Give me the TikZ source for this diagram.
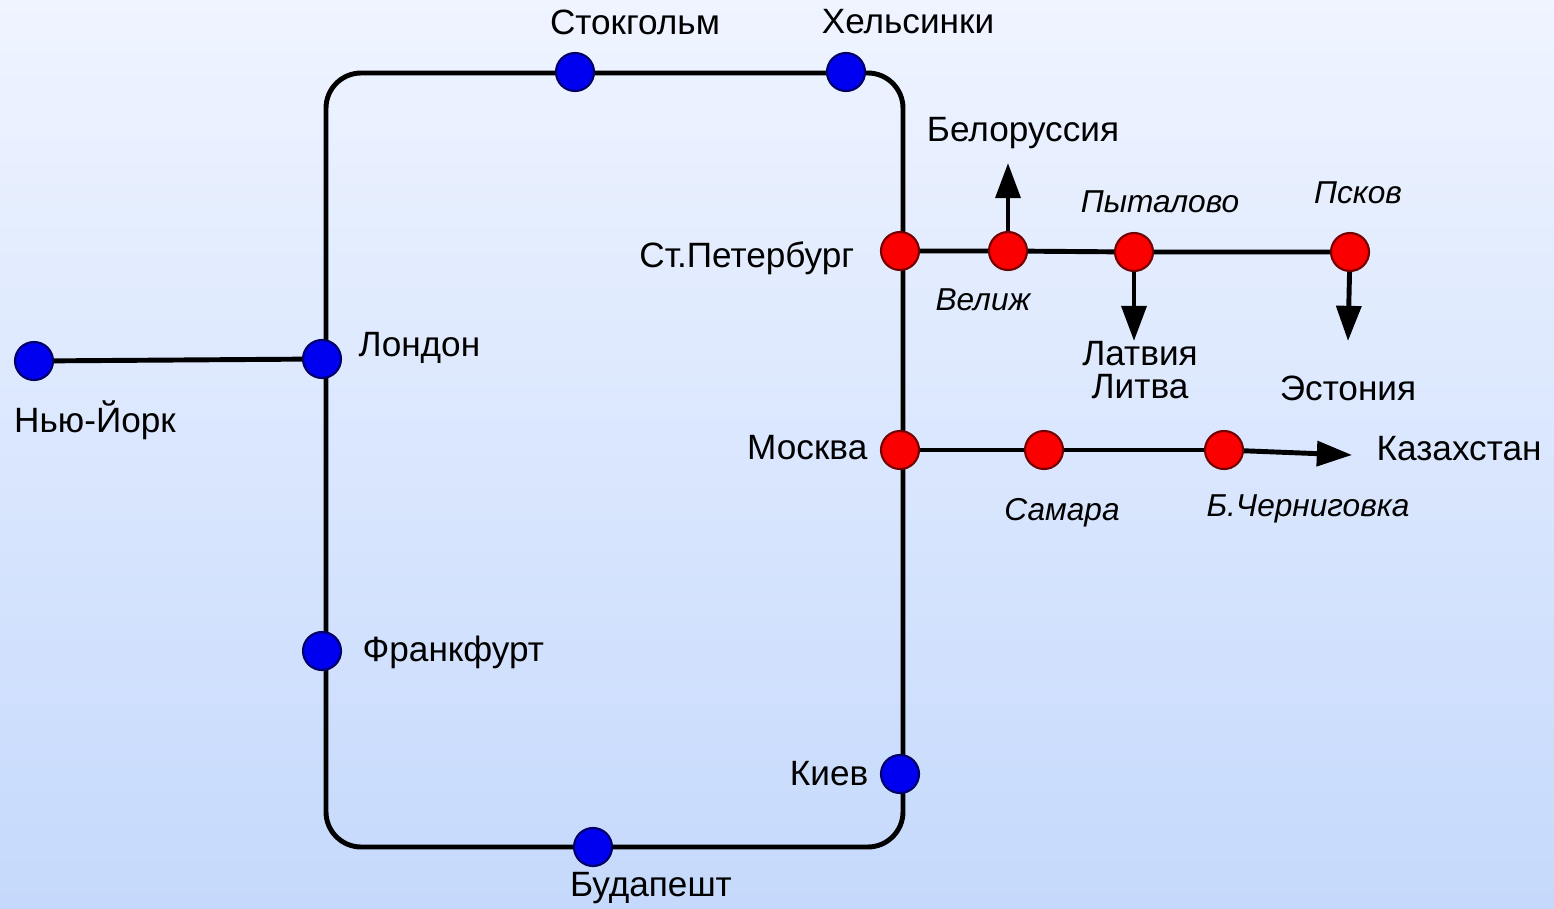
\documentclass[tikz,border=0pt]{standalone}
\usepackage{fontspec}
\setmainfont{Liberation Sans}
\usetikzlibrary{arrows.meta}
\definecolor{bgtop}{RGB}{239,244,255}
\definecolor{bgbottom}{RGB}{197,217,252}
\definecolor{stopblue}{RGB}{0,0,240}
\definecolor{stopred}{RGB}{250,0,0}

\tikzset{
  bluestop/.style={circle, draw=black!60!blue, fill=stopblue, line width=0.6pt, inner sep=0pt, minimum size=0.38cm},
  redstop/.style={circle, draw=red!45!black, fill=stopred, line width=0.6pt, inner sep=0pt, minimum size=0.38cm},
  city/.style={font=\fontsize{10}{9.5}\selectfont, align=center, inner sep=0pt},
  town/.style={font=\fontsize{9}{11}\selectfont\itshape, inner sep=0pt},
  rail/.style={line width=1.4pt},
  exitline/.style={line width=1.4pt, -{Triangle[length=10pt,width=7pt]}}
}

\begin{document}
\begin{tikzpicture}[x=0.01cm,y=-0.01cm]
% Background
\shade[top color=bgtop, bottom color=bgbottom] (0,0) rectangle (1554,909);

% Ring line
\draw[rail, rounded corners=10pt] (326,73) rectangle (903,847);

% Blue stations
\node[bluestop] (newyork) at (34,361) {};
\node[bluestop] (london) at (322,359) {};
\node[bluestop] (stockholm) at (575,72) {};
\node[bluestop] (helsinki) at (846,72) {};
\node[bluestop] (frankfurt) at (322,651) {};
\node[bluestop] (kiev) at (900,774) {};
\node[bluestop] (budapest) at (593,847) {};

% Red stations
\node[redstop] (spb) at (900,251) {};
\node[redstop] (velizh) at (1008,251) {};
\node[redstop] (pytalovo) at (1134,252) {};
\node[redstop] (pskov) at (1350,252) {};
\node[redstop] (moscow) at (900,450) {};
\node[redstop] (samara) at (1044,450) {};
\node[redstop] (bchern) at (1224,450) {};

% Branch ends
\coordinate (belarusend) at (1008,163);
\coordinate (latviaend) at (1134,341);
\coordinate (estoniaend) at (1348,341);
\coordinate (kazakhend) at (1352,455);

% Lines
\draw[rail] (newyork) -- (london);
\draw[rail] (spb) -- (velizh) -- (pytalovo) -- (pskov);
\draw[rail] (moscow) -- (samara) -- (bchern);
\draw[exitline] (velizh) -- (belarusend);
\draw[exitline] (pytalovo) -- (latviaend);
\draw[exitline] (pskov) -- (estoniaend);
\draw[exitline] (bchern) -- (kazakhend);

% Labels
\node[city] (lnewyork) at (95,420) {Нью-Йорк};
\node[city, anchor=west] (llondon) at (358,348) {Лондон};
\node[city] (lstockholm) at (635,22) {Стокгольм};
\node[city] (lhelsinki) at (908,22) {Хельсинки};
\node[city, anchor=west] (lfrankfurt) at (362,652) {Франкфурт};
\node[city, anchor=east] (lkiev) at (869,774) {Киев};
\node[city] (lbudapest) at (651,888) {Будапешт};
\node[city, anchor=east] (lspb) at (855,258) {Ст.Петербург};
\node[city, anchor=east] (lmoscow) at (868,448) {Москва};
\node[city] (lbelarus) at (1023,133) {Белоруссия};
\node[city] (llatvia) at (1140,370) {Латвия\\Литва};
\node[city] (lestonia) at (1348,388) {Эстония};
\node[city, anchor=west] (lkazakh) at (1376,449) {Казахстан};
\node[town] (lvelizh) at (983,300) {Велиж};
\node[town] (lpytalovo) at (1160,202) {Пыталово};
\node[town] (lpskov) at (1358,193) {Псков};
\node[town] (lsamara) at (1062,513) {Самара};
\node[town] (lbchern) at (1308,509) {Б.Черниговка};
\end{tikzpicture}
\end{document}
